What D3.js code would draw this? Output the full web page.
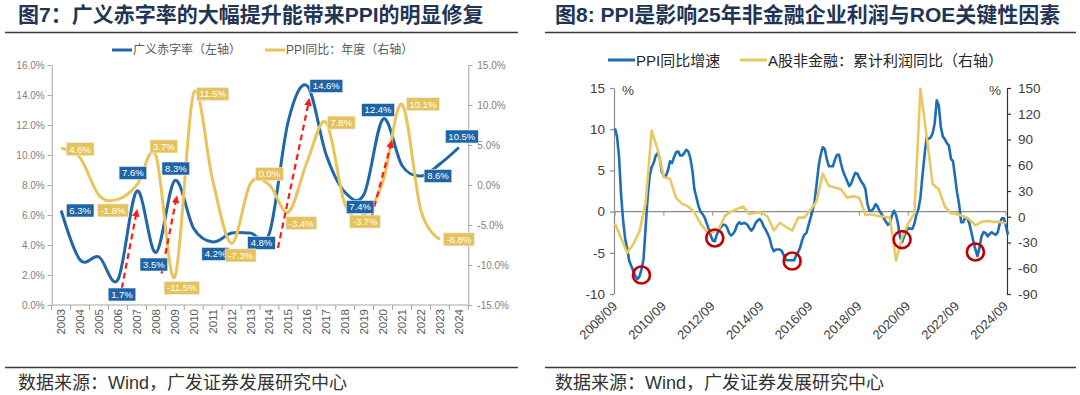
<!DOCTYPE html>
<html>
<head>
<meta charset="utf-8">
<script src="https://cdn.jsdelivr.net/npm/d3@7/dist/d3.min.js"></script>
<style>
  body { margin: 0; background: #fff; }
  svg text { font-family: 'Liberation Sans', Arial, 'Noto Sans CJK SC', sans-serif; }
</style>
</head>
<body>
<svg id="chart" width="1080" height="395"></svg>
<script>
// ---------- 图7 data ----------
const years = ['2003', '2004', '2005', '2006', '2007', '2008', '2009', '2010', '2011', '2012', '2013',
  '2014', '2015', '2016', '2017', '2018', '2019', '2020', '2021', '2022', '2023', '2024'];
// 广义赤字率 (left axis, %)
const deficitRate = [6.3, 3.0, 3.2, 1.7, 7.6, 3.5, 8.3, 5.1, 4.2, 4.8, 4.8,
  4.8, 12.3, 14.6, 10.0, 7.5, 7.4, 12.4, 9.3, 8.6, 9.4, 10.5];
// PPI同比：年度 (right axis, %)
const ppiAnnual = [4.6, 3.4, -1.3, -1.8, 0.0, 3.7, -11.5, 11.5, 0.6, -7.3, 0.2,
  0.0, -3.4, 3.0, 7.8, -2.5, -3.7, 0.5, 10.1, -3.2, -6.8, null];
const deficitLabelYears = ['2003', '2006', '2007', '2008', '2009', '2011', '2014', '2016', '2019', '2020', '2022', '2024'];
const ppiLabelYears = ['2003', '2006', '2008', '2009', '2010', '2012', '2014', '2015', '2017', '2019', '2021', '2023'];
const leftTicks7 = [0, 2, 4, 6, 8, 10, 12, 14, 16];
const rightTicks7 = [-15, -10, -5, 0, 5, 10, 15];
// dashed arrows: [year from, value from, year to, value to] on the left axis
const arrows7 = [[2006.1, 0.45, 2007.0, 6.3], [2008.3, 2.1, 2009.1, 7.2],
  [2014.45, 3.8, 2016.1, 13.7], [2019.4, 5.9, 2020.45, 10.9]];

// ---------- 图8 data ----------
// PPI同比增速, monthly from 2008/09 (left axis, %)
const ppiYoY = [10.1, 9.1, 6.6, 2.0, -1.1,
  -3.3, -4.5, -6.0, -6.6, -7.2, -7.8, -8.2, -7.9, -7.0, -5.8, -2.1, 1.7,
  4.3, 5.4, 5.9, 6.8, 7.1, 6.4, 4.8, 4.3, 4.3, 5.0, 6.1, 5.9,
  6.6, 7.2, 7.3, 6.8, 6.8, 7.1, 7.5, 7.3, 6.5, 5.0, 2.7, 1.7,
  0.7, 0.0, -0.3, -0.7, -1.4, -2.1, -2.9, -3.5, -3.6, -2.8, -2.2, -1.9,
  -1.6, -1.6, -1.9, -2.6, -2.9, -2.7, -2.3, -1.6, -1.3, -1.5, -1.4, -1.4,
  -1.6, -2.0, -2.3, -2.0, -1.4, -1.1, -0.9, -1.2, -1.8, -2.2, -2.7, -3.3,
  -4.3, -4.8, -4.6, -4.6, -4.6, -4.8, -5.4, -5.9, -5.9, -5.9, -5.9, -5.9,
  -5.3, -4.9, -4.3, -3.4, -2.8, -2.6, -1.7, -0.8, 0.1, 1.2, 3.3, 5.5,
  6.9, 7.8, 7.6, 6.4, 5.5, 5.5, 5.5, 6.3, 6.9, 6.9, 5.8, 4.9,
  4.3, 3.7, 3.1, 3.4, 4.1, 4.7, 4.6, 4.1, 3.6, 3.3, 2.7, 0.9,
  0.1, 0.1, 0.4, 0.9, 0.6, 0.0, -0.3, -0.8, -1.2, -1.6, -1.4, -0.5,
  0.1, -0.4, -1.5, -3.1, -3.7, -3.0, -2.4, -2.0, -2.1, -2.1, -1.5, -0.4,
  0.3, 1.7, 4.4, 6.8, 9.0, 8.8, 9.0, 9.5, 10.7, 13.5, 12.9, 10.3,
  9.1, 8.8, 8.3, 8.0, 6.4, 6.1, 4.2, 2.3, 0.9, -1.3, -1.3, -0.7,
  -0.8, -1.4, -2.5, -3.6, -4.6, -5.4, -4.4, -3.0, -2.5, -2.6, -3.0, -2.7,
  -2.5, -2.7, -2.8, -2.5, -1.4, -0.8, -0.8, -1.8, -2.8];
// A股非金融：累计利润同比, quarterly from 2008/09 (right axis, %)
const profitYoY = [-8, -25, -42, -32, -17, 15, 100, 78, 46, 44,
  22, 15, 12, 5, -8, -17, -18, -14, 1, 6,
  9, 12, 3, 5, 5, 0, -16, -7, -12, -16,
  -1, -1, 8, 18, 50, 36, 34, 32, 22, 24,
  22, 2, 3, 1, 0, -1, -51, -24, -8, 4,
  149, 95, 38, 32, 12, 4, 3, 1, -3, -10,
  -6, -5, -6, -6, -8];
const dateTicks = ['2008/09', '2010/09', '2012/09', '2014/09', '2016/09', '2018/09', '2020/09', '2022/09', '2024/09'];
const leftTicks8 = [-10, -5, 0, 5, 10, 15];
const rightTicks8 = [-90, -60, -30, 0, 30, 60, 90, 120, 150];
const troughMarks = [['2009/10', -7.7], ['2012/10', -3.2], ['2015/12', -6.0], ['2020/06', -3.4], ['2023/06', -4.9]];

const BLUE7 = '#2166a8';
const GOLD7 = '#e8c45a';
const BLUE8 = '#1f6db5';
const GOLD8 = '#e9c863';

const svg = d3.select('#chart');

// marker for red dashed arrows
svg.append('defs').append('marker')
  .attr('id', 'arrowHead')
  .attr('viewBox', '0 0 10 10')
  .attr('refX', 8)
  .attr('refY', 5)
  .attr('markerWidth', 3.5)
  .attr('markerHeight', 3.5)
  .attr('orient', 'auto')
  .append('path')
  .attr('d', 'M0,0L10,5L0,10z')
  .attr('fill', '#ff1a1a');

// headers, rules and source notes
const drawFrame = (x0, x1, title, tx) => {
  svg.append('text')
    .attr('x', tx).attr('y', 22)
    .attr('font-size', 21).attr('font-weight', 'bold')
    .attr('fill', '#1f3556')
    .text(title);
  svg.append('line').attr('x1', x0).attr('x2', x1).attr('y1', 32.5).attr('y2', 32.5)
    .attr('stroke', '#3a3a3a').attr('stroke-width', 1.5);
  svg.append('line').attr('x1', x0).attr('x2', x1).attr('y1', 367.5).attr('y2', 367.5)
    .attr('stroke', '#3a3a3a').attr('stroke-width', 1.5);
  svg.append('text')
    .attr('x', tx).attr('y', 389)
    .attr('font-size', 18).attr('fill', '#333')
    .text('数据来源：Wind，广发证券发展研究中心');
};
drawFrame(5, 518, '图7：广义赤字率的大幅提升能带来PPI的明显修复', 18);
drawFrame(545, 1076, '图8: PPI是影响25年非金融企业利润与ROE关键性因素', 555);

// ================= 图7 =================
const g7 = svg.append('g');
const x7 = d3.scaleBand().domain(years).range([51.7, 468.3]);
const bw = x7.bandwidth();
const yL7 = d3.scaleLinear().domain([0, 16]).range([305, 65]);
const yR7 = d3.scaleLinear().domain([-15, 15]).range([305, 65]);
const cx7 = yr => x7(yr) + bw / 2;
const xYear = v => x7(years[0]) + bw / 2 + (v - +years[0]) * bw;

const pct1 = d => `${d.toFixed(1)}%`;
const axisL7 = g7.append('g').attr('transform', 'translate(51.7,0)')
  .call(d3.axisLeft(yL7).tickValues(leftTicks7).tickSize(4).tickSizeOuter(0).tickFormat(pct1));
const axisR7 = g7.append('g').attr('transform', 'translate(468.3,0)')
  .call(d3.axisRight(yR7).tickValues(rightTicks7).tickSize(4).tickSizeOuter(0).tickFormat(pct1));
[axisL7, axisR7].forEach((a) => {
  a.selectAll('path, line').attr('stroke', '#a6a6a6');
  a.selectAll('text').attr('font-size', 10).attr('fill', '#7f7f7f')
    .attr('font-family', "'Liberation Sans', Arial, sans-serif");
});
axisL7.selectAll('text').attr('x', -7);
axisR7.selectAll('text').attr('x', 9);

// category axis: boundaries ticks + rotated labels
g7.append('line').attr('x1', 51.7).attr('x2', 468.3).attr('y1', 305).attr('y2', 305)
  .attr('stroke', '#a6a6a6');
g7.selectAll('.ytick').data(years.concat(['end'])).enter().append('line')
  .attr('x1', d => (d === 'end' ? 468.3 : x7(d)))
  .attr('x2', d => (d === 'end' ? 468.3 : x7(d)))
  .attr('y1', 305).attr('y2', 310)
  .attr('stroke', '#a6a6a6');
g7.selectAll('.ylab').data(years).enter().append('text')
  .attr('transform', d => `translate(${cx7(d) + 4},309) rotate(-90)`)
  .attr('text-anchor', 'end')
  .attr('font-size', 11.5).attr('fill', '#595959')
  .text(d => d);

// legend
const legend7 = [['广义赤字率（左轴）', BLUE7, 112], ['PPI同比：年度（右轴）', GOLD7, 265]];
legend7.forEach(([label, color, lx]) => {
  g7.append('line').attr('x1', lx).attr('x2', lx + 20).attr('y1', 50).attr('y2', 50)
    .attr('stroke', color).attr('stroke-width', 3);
  g7.append('text').attr('x', lx + 21).attr('y', 54).attr('font-size', 12).attr('fill', '#595959')
    .text(label);
});

const smooth = d3.curveCardinal.tension(0);
const deficitPts = years.map((yr, i) => ({ yr, v: deficitRate[i] }));
const ppiPts = years.map((yr, i) => ({ yr, v: ppiAnnual[i] }));

g7.append('path').datum(deficitPts)
  .attr('fill', 'none').attr('stroke', BLUE7).attr('stroke-width', 3)
  .attr('d', d3.line().x(d => cx7(d.yr)).y(d => yL7(d.v)).curve(smooth));
g7.append('path').datum(ppiPts)
  .attr('fill', 'none').attr('stroke', GOLD7).attr('stroke-width', 3)
  .attr('d', d3.line().defined(d => d.v !== null).x(d => cx7(d.yr)).y(d => yR7(d.v)).curve(smooth));

// arrows
g7.selectAll('.arr').data(arrows7).enter().append('line')
  .attr('x1', d => xYear(d[0])).attr('y1', d => yL7(d[1]))
  .attr('x2', d => xYear(d[2])).attr('y2', d => yL7(d[3]))
  .attr('stroke', '#ff1a1a').attr('stroke-width', 2.2)
  .attr('stroke-dasharray', '6,4')
  .attr('marker-end', 'url(#arrowHead)');

// data tags: offsets of the label box from its point
const deficitTagOffset = {
  2003: [19, 0], 2006: [4, 15], 2007: [-4, -18], 2008: [-2, 12], 2009: [1, -12], 2011: [3, 12],
  2014: [-8, 10], 2016: [19, 0], 2019: [-4, 13], 2020: [-5, -9], 2022: [17, 0], 2024: [3, -11],
};
const ppiTagOffset = {
  2003: [19, 1], 2006: [-5, 11], 2008: [8, -9], 2009: [7, 11], 2010: [19, 1], 2012: [9, 12],
  2014: [0, -11], 2015: [13, 11], 2017: [15, 0], 2019: [1, 7], 2021: [21, 0], 2023: [19, 0],
};
const drawTag = (px, py, text, fill) => {
  const tg = g7.append('g');
  const r = tg.append('rect');
  const t = tg.append('text')
    .attr('x', px).attr('y', py).attr('dy', '0.35em')
    .attr('text-anchor', 'middle')
    .attr('font-size', 9.5).attr('fill', '#fff')
    .text(text);
  const w = t.node().getComputedTextLength() + 6;
  r.attr('x', px - w / 2).attr('y', py - 6.5).attr('width', w).attr('height', 13)
    .attr('fill', fill).attr('stroke', '#e8eef5').attr('stroke-width', 0.6);
};
deficitLabelYears.forEach((yr) => {
  const i = years.indexOf(yr);
  const [dx, dy] = deficitTagOffset[yr];
  drawTag(cx7(yr) + dx, yL7(deficitRate[i]) + dy, pct1(deficitRate[i]), '#1f64a6');
});
ppiLabelYears.forEach((yr) => {
  const i = years.indexOf(yr);
  const [dx, dy] = ppiTagOffset[yr];
  drawTag(cx7(yr) + dx, yR7(ppiAnnual[i]) + dy, pct1(ppiAnnual[i]), '#e6c35a');
});

// ================= 图8 =================
const g8 = svg.append('g');
const monthIndex = (s) => {
  const [yy, mm] = s.split('/').map(Number);
  return (yy - 2008) * 12 + (mm - 9);
};
const x8 = d3.scaleLinear().domain([0, ppiYoY.length - 1]).range([615, 1008]);
const yL8 = d3.scaleLinear().domain([-10, 15]).range([294, 88]);
const yR8 = d3.scaleLinear().domain([-90, 150]).range([294, 88]);

const axisL8 = g8.append('g').attr('transform', 'translate(614,0)')
  .call(d3.axisLeft(yL8).tickValues(leftTicks8).tickSize(4).tickSizeOuter(0).tickFormat(d => String(d)));
const axisR8 = g8.append('g').attr('transform', 'translate(1007,0)')
  .call(d3.axisRight(yR8).tickValues(rightTicks8).tickSize(4).tickSizeOuter(0).tickFormat(d => String(d)));
axisL8.selectAll('path, line').attr('stroke', '#8c8c8c').attr('stroke-width', 1.2);
axisR8.selectAll('path, line').attr('stroke', '#333').attr('stroke-width', 1.2);
[axisL8, axisR8].forEach((a) => {
  a.selectAll('text').attr('font-size', 13.5).attr('fill', '#404040')
    .attr('font-family', "'Liberation Sans', Arial, sans-serif");
});
axisL8.selectAll('text').attr('x', -9);
axisR8.selectAll('text').attr('x', 11);

g8.append('text').attr('x', 622).attr('y', 95).attr('font-size', 13.5).attr('fill', '#404040').text('%');
g8.append('text').attr('x', 989).attr('y', 95).attr('font-size', 13.5).attr('fill', '#404040').text('%');

// zero line with date ticks
g8.append('line').attr('x1', 614).attr('x2', 1006).attr('y1', yL8(0)).attr('y2', yL8(0))
  .attr('stroke', '#8c8c8c').attr('stroke-width', 1.2);
g8.selectAll('.dtick').data(dateTicks).enter().append('line')
  .attr('x1', d => x8(monthIndex(d))).attr('x2', d => x8(monthIndex(d)))
  .attr('y1', yL8(0)).attr('y2', yL8(0) + 4)
  .attr('stroke', '#8c8c8c');
g8.selectAll('.dlab').data(dateTicks).enter().append('text')
  .attr('transform', d => `translate(${x8(monthIndex(d)) + 3},307) rotate(-45)`)
  .attr('text-anchor', 'end')
  .attr('font-size', 13).attr('fill', '#404040')
  .text(d => d);

// legend
const legend8 = [['PPI同比增速', BLUE8, 608], ['A股非金融：累计利润同比（右轴）', GOLD8, 740]];
legend8.forEach(([label, color, lx]) => {
  g8.append('line').attr('x1', lx).attr('x2', lx + 27).attr('y1', 60).attr('y2', 60)
    .attr('stroke', color).attr('stroke-width', 3);
  g8.append('text').attr('x', lx + 28).attr('y', 65.5).attr('font-size', 15).attr('fill', '#262626')
    .text(label);
});

g8.append('path').datum(ppiYoY)
  .attr('fill', 'none').attr('stroke', BLUE8).attr('stroke-width', 2.6)
  .attr('stroke-linejoin', 'round')
  .attr('d', d3.line().x((d, i) => x8(i)).y(d => yL8(d)));
g8.append('path').datum(profitYoY)
  .attr('fill', 'none').attr('stroke', GOLD8).attr('stroke-width', 2.6)
  .attr('stroke-linejoin', 'round')
  .attr('d', d3.line().x((d, i) => x8(i * 3)).y(d => yR8(d)));

g8.selectAll('.trough').data(troughMarks).enter().append('circle')
  .attr('cx', d => x8(monthIndex(d[0])))
  .attr('cy', d => yL8(d[1]))
  .attr('r', 8.5)
  .attr('fill', 'none').attr('stroke', '#c00000').attr('stroke-width', 2.6);
</script>
</body>
</html>
